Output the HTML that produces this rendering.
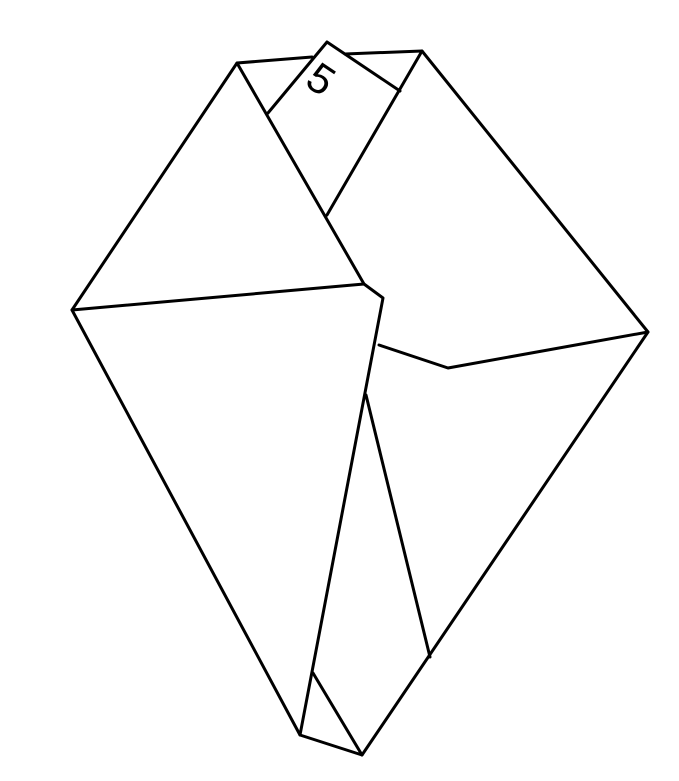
<!DOCTYPE html>
<html><head><meta charset="utf-8"><style>html,body{margin:0;padding:0;background:#fff;}svg{display:block}</style></head>
<body>
<svg width="679" height="781" viewBox="0 0 679 781">
<g stroke="#000" stroke-width="3" fill="none" stroke-linejoin="round" stroke-linecap="round">
<polyline points="312,57 237,63 72,310 300,735 362,755 648,332 422,51 345,54"/>
<polyline points="268,113 327,42 400,91"/>
<line x1="237" y1="63" x2="364" y2="284"/>
<line x1="422" y1="51" x2="327" y2="215"/>
<polyline points="72,310 364,284 383,298 300,735"/>
<polyline points="379,345 448,368 648,332"/>
<line x1="366" y1="395" x2="430" y2="657"/>
<line x1="313" y1="673" x2="362" y2="755"/>
</g>
<text x="0" y="0" font-family="Liberation Sans, sans-serif" font-size="42" text-anchor="middle" dominant-baseline="central" transform="translate(321,79) rotate(34)">5</text>
</svg>
</body></html>
